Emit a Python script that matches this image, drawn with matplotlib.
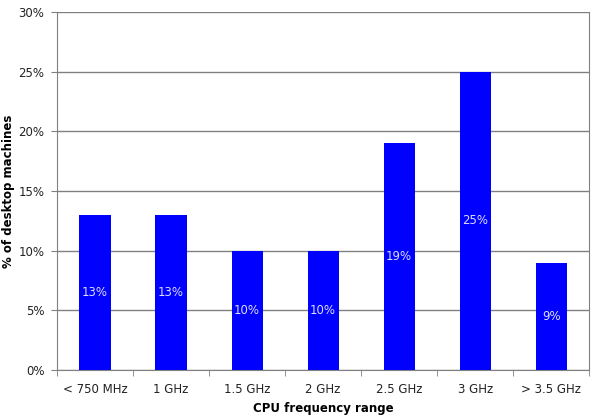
import matplotlib
matplotlib.use("Agg")
import matplotlib.pyplot as plt
from matplotlib.ticker import MultipleLocator, FuncFormatter

categories = ["< 750 MHz", "1 GHz", "1.5 GHz", "2 GHz", "2.5 GHz", "3 GHz", "> 3.5 GHz"]
values = [13, 13, 10, 10, 19, 25, 9]

plt.rcParams['font.family'] = ['DejaVu Sans']

fig = plt.figure(figsize=(5.94, 4.2), dpi=100)
ax = fig.add_axes([0.096, 0.119, 0.896, 0.852])

x = list(range(len(categories)))
bars = ax.bar(x, values, width=0.41, color='#0000ff', zorder=3)

for xi, v in zip(x, values):
    ax.text(xi, v / 2, f"{v}%", ha='center', va='center', color='#dcdcff', fontsize=8.5, zorder=4)

ax.set_xlim(-0.5, len(categories) - 0.5)
ax.set_ylim(0, 30)
ax.yaxis.set_major_locator(MultipleLocator(5))
ax.yaxis.set_major_formatter(FuncFormatter(lambda v, p: f"{v:.0f}%"))
ax.grid(axis='y', color='#808080', linewidth=1, zorder=0)

ax.set_xticks(x)
ax.set_xticklabels(categories, fontsize=8.5, color='#222222')
ax.set_xticks([i - 0.5 for i in range(len(categories) + 1)], minor=True)
ax.tick_params(axis='x', which='major', length=0, pad=9)
ax.tick_params(axis='x', which='minor', length=4, color='#808080')
ax.tick_params(axis='y', labelsize=8.5, labelcolor='#222222', length=4, color='#808080', pad=5)

for s in ['left', 'bottom', 'right']:
    ax.spines[s].set_color('#808080')
ax.spines['top'].set_visible(False)

ax.set_xlabel("CPU frequency range", fontsize=8.5, fontweight='bold')
ax.set_ylabel("% of desktop machines", fontsize=8.5, fontweight='bold')
ax.xaxis.set_label_coords(0.5, -0.089)
ax.yaxis.set_label_coords(-0.079, 0.5)

fig.savefig("out.png", dpi=100)
